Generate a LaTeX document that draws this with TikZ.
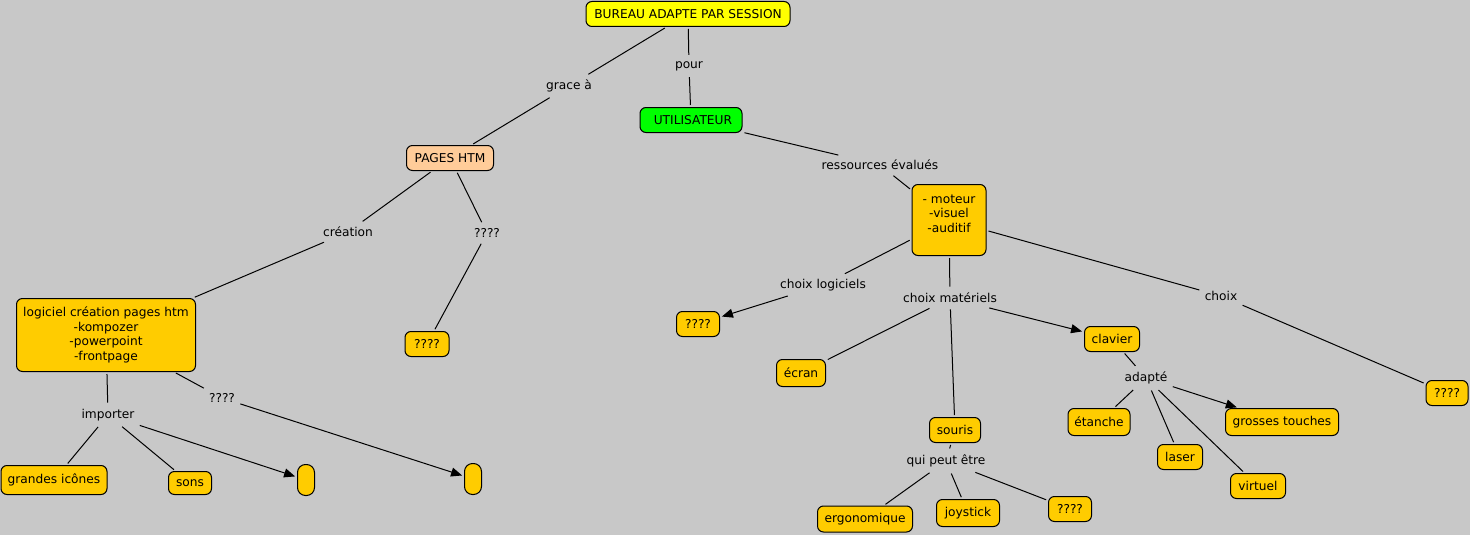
\documentclass[tikz,border=0pt]{standalone}
\usepackage{fontspec}
\setmainfont{DejaVu Sans}
\usepackage{tikz}
\usetikzlibrary{arrows.meta}
\usetikzlibrary{positioning}
\definecolor{mapgrey}{RGB}{200,200,200}
\definecolor{gold}{RGB}{255,204,0}
\definecolor{peach}{RGB}{255,204,153}
\definecolor{userGreen}{RGB}{0,255,0}
\definecolor{topYellow}{RGB}{255,255,0}
\tikzstyle{concept}=[rectangle,rounded corners=6pt,draw=black,fill=gold,inner xsep=6pt,inner ysep=2pt,minimum height=25pt,align=center]
\tikzstyle{link}=[inner xsep=3pt,inner ysep=4pt,align=center]
\tikzstyle{conn}=[shorten <=2pt,shorten >=2pt]
\tikzstyle{arrow}=[-{Triangle[length=11pt,width=9pt]}]
\tikzstyle{empty}=[concept,rounded corners=8pt,minimum width=17pt,minimum height=31pt,inner sep=0pt]
\tikzset{every picture/.style={
    line width=1pt
  },
  every node/.style={font=\fontsize{12.2}{14.7}\selectfont}
}

\begin{document}
\begin{tikzpicture}[x=1pt,y=-1pt]
    \fill[mapgrey] (0,0) rectangle (1470,535);
    \useasboundingbox (0,0) rectangle (1470,535);
    % top
    \node[concept,fill=topYellow,minimum width=204pt] at (688,14) (bureau) {BUREAU ADAPTE PAR SESSION};
    \node[link] at (569,86) (grace) {grace à};
    \node[link] at (689,66) (pour) {pour};
    \node[concept,fill=userGreen,minimum width=102pt] at (691,120) (user) {\ UTILISATEUR};
    \node[concept,fill=peach,minimum width=87pt] at (450,158) (pages) {PAGES HTM};
    \draw[conn] (bureau) -- (grace);
    \draw[conn] (grace) -- (pages);
    \draw[conn] (bureau) -- (pour);
    \draw[conn] (pour) -- (user);
    % left branch
    \node[link] at (348,232) (creation) {création};
    \node[link] at (487,233) (qpages) {????};
    \node[concept,minimum width=179pt,minimum height=73pt] at (106,335) (logiciel) {logiciel création pages htm\\-kompozer\\-powerpoint\\-frontpage};
    \node[concept,minimum width=44pt] at (427,344) (qbox) {????};
    \draw[conn] (pages) -- (creation);
    \draw[conn] (creation) -- (logiciel);
    \draw[conn] (pages) -- (qpages);
    \draw[conn] (qpages) -- (qbox);
    \node[link] at (108,415) (importer) {importer};
    \node[link] at (222,398) (qlog) {????};
    \node[concept,minimum width=106pt,minimum height=29pt] at (54,480) (icones) {grandes icônes};
    \node[concept,minimum width=43pt,minimum height=23pt] at (190,483) (sons) {sons};
    \node[empty] at (306,480) (vide1) {};
    \node[empty] at (473,479) (vide2) {};
    \draw[conn] (logiciel) -- (importer);
    \draw[conn] (importer) -- (icones);
    \draw[conn] (importer) -- (sons);
    \draw[conn,arrow] (importer) -- (vide1);
    \draw[conn] (logiciel) -- (qlog);
    \draw[conn,arrow] (qlog) -- (vide2);
    % right branch
    \node[link] at (880,165) (ress) {ressources évalués};
    \node[concept,minimum width=74pt,minimum height=71pt] at (949,220) (sens) {- moteur\\-visuel\\-auditif\\[-6.5pt]\strut};
    \draw[conn] (user) -- (ress);
    \draw[conn] (ress) -- (sens);
    \node[link] at (823,285) (choixlog) {choix logiciels};
    \node[link] at (950,298) (choixmat) {choix matériels};
    \node[link] at (1221,296) (choix) {choix};
    \node[concept,minimum width=43pt] at (698,324) (qsoft) {????};
    \node[concept,minimum width=49pt,minimum height=27pt] at (801,373) (ecran) {écran};
    \node[concept,minimum width=55pt] at (1112,339) (clavier) {clavier};
    \node[concept,minimum width=42pt] at (1447,393) (qchoix) {????};
    \node[concept,minimum width=51pt] at (955,430) (souris) {souris};
    \draw[conn] (sens) -- (choixlog);
    \draw[conn,arrow] (choixlog) -- (qsoft);
    \draw[conn] (sens) -- (choixmat);
    \draw[conn] (choixmat) -- (ecran);
    \draw[conn,arrow] (choixmat) -- (clavier);
    \draw[conn] (choixmat) -- (souris);
    \draw[conn] (sens) -- (choix);
    \draw[conn] (choix) -- (qchoix);
    % clavier
    \node[link] at (1146,378) (adapte) {adapté};
    \node[concept,minimum width=62pt,minimum height=27pt] at (1099,422) (etanche) {étanche};
    \node[concept,minimum width=113pt,minimum height=27pt] at (1282,422) (touches) {grosses touches};
    \node[concept,minimum width=45pt] at (1180,457) (laser) {laser};
    \node[concept,minimum width=55pt] at (1258,486) (virtuel) {virtuel};
    \draw[conn] (clavier) -- (adapte);
    \draw[conn] (adapte) -- (etanche);
    \draw[conn] (adapte) -- (laser);
    \draw[conn] (adapte) -- (virtuel);
    \draw[conn,arrow] (adapte) -- (touches);
    % souris
    \node[link] at (946,461) (peut) {qui peut être};
    \node[concept,minimum width=95pt,minimum height=26pt] at (865,519) (ergo) {ergonomique};
    \node[concept,minimum width=63pt,minimum height=27pt] at (968,513) (joystick) {joystick};
    \node[concept,minimum width=43pt] at (1070,509) (qsouris) {????};
    \draw[conn] (souris) -- (peut);
    \draw[conn] (peut) -- (ergo);
    \draw[conn] (peut) -- (joystick);
    \draw[conn] (peut) -- (qsouris);
\end{tikzpicture}
\end{document}
